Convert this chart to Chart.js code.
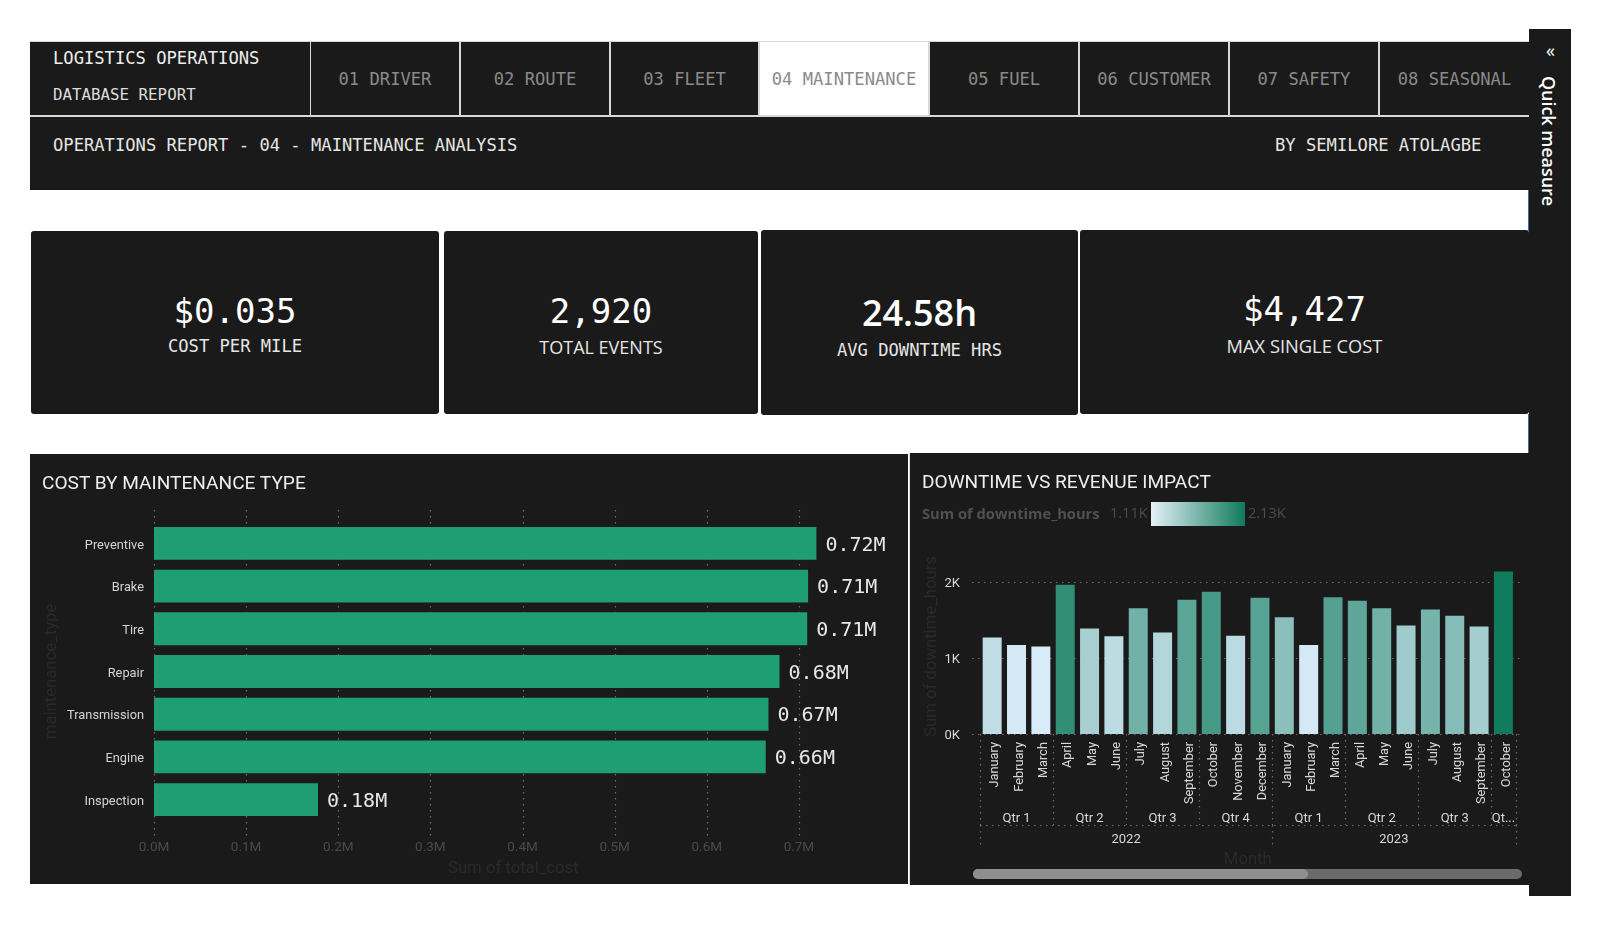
<!DOCTYPE html>
<html><head><meta charset="utf-8">
<script src="https://cdn.jsdelivr.net/npm/chart.js@4"></script>
<style>
html,body{margin:0;padding:0;background:#fff;width:1600px;height:925px;overflow:hidden}
.a{position:absolute;box-sizing:border-box}
.d{background:#1a1a1a}
.m{font-family:"DejaVu Sans Mono",monospace;white-space:pre}
.s{font-family:"Open Sans",sans-serif;white-space:pre}
.r{font-family:Roboto,sans-serif;white-space:pre}
.c{display:flex;align-items:center;justify-content:center}
.tab{top:42px;height:73px;font-size:17.15px;color:#8a8a8a}
.kv{left:0;right:0;text-align:center;color:#fff}
.kl{left:0;right:0;text-align:center;color:#e6e6e6}
canvas{position:absolute;left:0;top:0}
</style></head><body>
<div class="a" style="left:30px;top:41px;width:1499px;height:77px;background:#d8d8d8"></div>
<div class="a d m" style="left:30px;top:42px;width:280px;height:73px"></div>
<div class="a m" style="left:53px;top:47px;font-size:17.15px;color:#eee;line-height:22px">LOGISTICS OPERATIONS</div>
<div class="a m" style="left:53px;top:84px;font-size:15.8px;color:#ddd;line-height:22px">DATABASE REPORT</div>
<div id="tabs"></div>
<div class="a d" style="left:30px;top:117px;width:1499px;height:73px"></div>
<div class="a m" style="left:53px;top:133px;font-size:17.15px;color:#e6e6e6;line-height:24px">OPERATIONS REPORT - 04 - MAINTENANCE ANALYSIS</div>
<div class="a m" style="left:1275px;top:133px;font-size:17.15px;color:#e6e6e6;line-height:24px">BY SEMILORE ATOLAGBE</div>

<div class="a d" style="left:31px;top:231px;width:408px;height:183px;border-radius:3px">
 <div class="a m kv" style="top:58px;font-size:34px;line-height:44px">$0.035</div>
 <div class="a m kl" style="top:103px;font-size:17.15px;line-height:24px">COST PER MILE</div></div>
<div class="a d" style="left:444px;top:231px;width:314px;height:183px;border-radius:3px">
 <div class="a m kv" style="top:58px;font-size:34px;line-height:44px">2,920</div>
 <div class="a s kl" style="top:104px;font-size:18px;line-height:24px">TOTAL EVENTS</div></div>
<div class="a d" style="left:761px;top:230px;width:317px;height:185px;border-radius:3px">
 <div class="a s kv" style="top:60px;font-size:36px;line-height:46px;font-weight:600">24.58h</div>
 <div class="a m kl" style="top:108px;font-size:17.15px;line-height:24px">AVG DOWNTIME HRS</div></div>
<div class="a d" style="left:1080px;top:230px;width:449px;height:184px;border-radius:3px">
 <div class="a m kv" style="top:57px;font-size:34px;line-height:44px">$4,427</div>
 <div class="a s kl" style="top:104px;font-size:18.3px;line-height:24px">MAX SINGLE COST</div></div>

<div class="a d" style="left:1529px;top:29px;width:42px;height:867px"></div>
<div class="a s" style="left:1546px;top:38px;font-size:18px;color:#fff;line-height:24px">«</div>
<div class="a s" style="left:1538px;top:76px;font-size:17.9px;font-weight:600;color:#fff;line-height:22px;writing-mode:vertical-rl">Quick measure</div>
<div class="a" style="left:1528px;top:190px;width:1px;height:41px;background:#3c6ea5"></div>
<div class="a" style="left:1528px;top:414px;width:1px;height:40px;background:#3c6ea5"></div>

<div class="a d" style="left:30px;top:454px;width:878px;height:430px"><canvas id="costChart" width="878" height="430"></canvas></div>
<div class="a r" style="left:42px;top:471px;font-size:19.1px;color:#eee;line-height:24px">COST BY MAINTENANCE TYPE</div>

<div class="a d" style="left:909px;top:453px;width:620px;height:432px;border-left:1px solid #ddd"><canvas id="downChart" width="619" height="432"></canvas></div>
<div class="a r" style="left:922px;top:470px;font-size:19.1px;color:#eee;line-height:24px">DOWNTIME VS REVENUE IMPACT</div>
<div class="a s" style="left:922px;top:502px;font-size:14.7px;font-weight:700;color:#515151;line-height:22px">Sum of downtime_hours</div>
<div class="a s" style="left:1110px;top:502px;font-size:14.5px;color:#4c4c4c;line-height:22px">1.11K</div>
<div class="a" style="left:1151px;top:502px;width:94px;height:24px;background:linear-gradient(90deg,#e4f0f9,#0f7a5c)"></div>
<div class="a s" style="left:1248px;top:502px;font-size:14.5px;color:#4c4c4c;line-height:22px">2.13K</div>
<div class="a" style="left:973px;top:869px;width:549px;height:10px;border-radius:5px;background:#6b6b6b"></div>
<div class="a" style="left:973px;top:869px;width:335px;height:10px;border-radius:5px;background:#8f8f8f"></div>

<script>
const tabLabels=['01 DRIVER','02 ROUTE','03 FLEET','04 MAINTENANCE','05 FUEL','06 CUSTOMER','07 SAFETY','08 SEASONAL'];
const maintenanceTypes=['Preventive','Brake','Tire','Repair','Transmission','Engine','Inspection'];
const totalCostM=[0.719,0.710,0.709,0.679,0.667,0.664,0.178];
const costValueLabels=['0.72M','0.71M','0.71M','0.68M','0.67M','0.66M','0.18M'];
const months=['January','February','March','April','May','June','July','August','September','October','November','December','January','February','March','April','May','June','July','August','September','October'];
const downtimeK=[1.268,1.170,1.150,1.960,1.386,1.285,1.654,1.333,1.763,1.868,1.290,1.790,1.535,1.170,1.798,1.750,1.654,1.425,1.636,1.553,1.412,2.136];
const quarterLabels=['Qtr 1','Qtr 2','Qtr 3','Qtr 4','Qtr 1','Qtr 2','Qtr 3','Qt...'];
const quarterStarts=[0,3,6,9,12,15,18,21];
const yearLabels=['2022','2023'];
const yearStarts=[0,12];

const tabEdges=[310,460,610,759,929,1079,1229,1379,1530];
const tabs=document.getElementById('tabs');
tabLabels.forEach((t,i)=>{
  const e=document.createElement('div');
  e.className='a m c tab';
  const active=i===3;
  e.style.cssText=`left:${tabEdges[i]+1}px;width:${tabEdges[i+1]-tabEdges[i]-2}px;background:${active?'#fff':'#1a1a1a'}`;
  e.textContent=t;tabs.appendChild(e);
});

const DOT='#6e6e6e', DASH=[1.5,4.5], DIM='#2a2a2a', FF='Roboto, sans-serif';
Chart.defaults.font.family=FF;
Chart.defaults.animation=false;
Chart.defaults.responsive=false;

function dotted(ctx,x1,y1,x2,y2){
  ctx.save();ctx.strokeStyle=DOT;ctx.lineWidth=1.2;ctx.setLineDash(DASH);
  ctx.beginPath();ctx.moveTo(x1,y1);ctx.lineTo(x2,y2);ctx.stroke();ctx.restore();
}
const costPlugin={id:'costDecor',
  beforeDatasetsDraw(c){
    const x=c.scales.x,a=c.chartArea;
    for(let v=0;v<=0.7001;v+=0.1){const p=Math.round(x.getPixelForValue(v))+.5;dotted(c.ctx,p,a.top-12,p,a.bottom+16);}
  },
  afterDatasetsDraw(c){
    const ctx=c.ctx,m=c.getDatasetMeta(0);
    ctx.save();ctx.font='20px "DejaVu Sans Mono",monospace';ctx.fillStyle='#e8e8e8';ctx.textBaseline='middle';
    m.data.forEach((b,i)=>ctx.fillText(costValueLabels[i],b.x+9,b.y+2));
    ctx.restore();
  }};
new Chart(document.getElementById('costChart'),{
  type:'bar',
  data:{labels:maintenanceTypes,datasets:[{data:totalCostM,backgroundColor:'#1f9e73',categoryPercentage:1,barPercentage:0.77}]},
  options:{indexAxis:'y',devicePixelRatio:1,
    layout:{padding:{top:68,right:35.4,left:0,bottom:0}},
    plugins:{legend:{display:false},tooltip:{enabled:false},title:{display:false}},
    scales:{
      x:{min:0,max:0.78,grid:{display:false,tickLength:0},border:{display:false},
        afterFit(s){s.height=63},
        ticks:{stepSize:0.1,padding:19,color:'#4a4a4a',font:{size:13.5,family:FF},maxRotation:0,autoSkip:false,callback:v=>v<0.7001?v.toFixed(1)+'M':null},
        title:{display:true,text:'Sum of total_cost',color:DIM,font:{size:16.7,family:FF},padding:{top:0,bottom:5}}},
      y:{grid:{display:false,tickLength:0},border:{display:false},
        afterFit(s){s.width=124},
        ticks:{padding:10,labelOffset:2,color:'#d4d4d4',autoSkip:false,font:{size:12.8,family:FF}},
        title:{display:true,text:'maintenance_type',color:DIM,font:{size:16.7,family:FF},padding:{top:12,bottom:0}}}
    }},
  plugins:[costPlugin]});

function lerpColor(v){
  const lo=[216,235,248],hi=[15,122,92];
  const min=Math.min(...downtimeK),max=Math.max(...downtimeK);
  const t=(v-min)/(max-min);
  return 'rgb('+lo.map((l,i)=>Math.round(l+(hi[i]-l)*t)).join(',')+')';
}
const downPlugin={id:'downDecor',
  beforeDatasetsDraw(c){
    const y=c.scales.y,a=c.chartArea;
    [0,1,2].forEach(v=>{const p=Math.round(y.getPixelForValue(v))+.5;dotted(c.ctx,a.left-8,p,a.right+5,p);});
  },
  afterDraw(c){
    const x=c.scales.x,a=c.chartArea,ctx=c.ctx;
    const edge=i=>x.getPixelForValue(i-0.5);
    const qY=a.bottom+91, yY=a.bottom+113;
    quarterStarts.concat([months.length]).forEach(i=>{const p=Math.round(edge(i))+.5;dotted(ctx,p,a.bottom,p,qY);});
    yearStarts.concat([months.length]).forEach(i=>{const p=Math.round(edge(i))+.5;dotted(ctx,p,qY,p,yY);});
    dotted(ctx,a.left,qY+.5,edge(months.length),qY+.5);
    ctx.save();ctx.font='13px '+FF;ctx.fillStyle='#d8d8d8';ctx.textAlign='center';ctx.textBaseline='middle';
    quarterLabels.forEach((l,k)=>{
      const e=k+1<quarterStarts.length?quarterStarts[k+1]:months.length;
      ctx.fillText(l,(edge(quarterStarts[k])+edge(e))/2,a.bottom+85);
    });
    yearLabels.forEach((l,k)=>{
      const e=k+1<yearStarts.length?yearStarts[k+1]:months.length;
      ctx.fillText(l,(edge(yearStarts[k])+edge(e))/2,a.bottom+106);
    });
    ctx.restore();
  }};
new Chart(document.getElementById('downChart'),{
  type:'bar',
  data:{labels:months,datasets:[{data:downtimeK,backgroundColor:downtimeK.map(lerpColor),categoryPercentage:1,barPercentage:0.78}]},
  options:{devicePixelRatio:1,
    layout:{padding:{top:106,right:13.4,left:0,bottom:0}},
    plugins:{legend:{display:false},tooltip:{enabled:false},title:{display:false}},
    scales:{
      x:{grid:{display:false,tickLength:0},border:{display:false},
        afterFit(s){s.height=151},
        ticks:{autoSkip:false,minRotation:90,maxRotation:90,padding:8,labelOffset:3,color:'#d8d8d8',font:{size:12.8,family:FF}},
        title:{display:true,text:'Month',color:DIM,font:{size:16.7,family:FF},padding:{top:0,bottom:15}}},
      y:{min:0,max:2.3,grid:{display:false,tickLength:0},border:{display:false},
        afterFit(s){s.width=70},
        ticks:{stepSize:1,padding:20,labelOffset:2,color:'#d8d8d8',font:{size:13,family:FF},callback:v=>Number.isInteger(v)?v+'K':null},
        title:{display:true,text:'Sum of downtime_hours',color:DIM,font:{size:16.7,family:FF},padding:{top:12,bottom:0}}}
    }},
  plugins:[downPlugin]});
</script>
</body></html>
